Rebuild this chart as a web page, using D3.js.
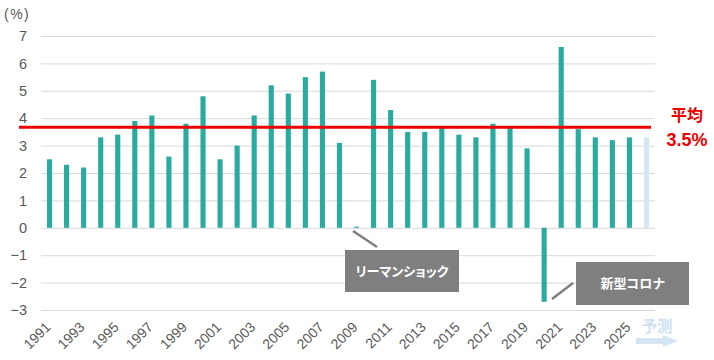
<!DOCTYPE html>
<html>
<head>
<meta charset="utf-8">
<script src="https://cdn.jsdelivr.net/npm/d3@7"></script>
<style>
  html, body { margin: 0; padding: 0; background: #fff; }
  svg { display: block; }
</style>
</head>
<body>
<svg id="chart" width="714" height="360"></svg>
<script>
const years = d3.range(1991, 2027).map(String);
const values = [2.5, 2.3, 2.2, 3.3, 3.4, 3.9, 4.1, 2.6, 3.8, 4.8,
                2.5, 3.0, 4.1, 5.2, 4.9, 5.5, 5.7, 3.1, 0.04, 5.4,
                4.3, 3.5, 3.5, 3.7, 3.4, 3.3, 3.8, 3.7, 2.9, -2.7,
                6.6, 3.6, 3.3, 3.2, 3.3, 3.3];
const forecastYears = ["2026"];
const yTicks = [-3, -2, -1, 0, 1, 2, 3, 4, 5, 6, 7];
const xTickLabels = d3.range(1991, 2026, 2).map(String);
const averageLine = 3.67;
const averageLabel = ["平均", "3.5%"];
const notes = [
  { text: "リーマンショック", year: "2009" },
  { text: "新型コロナ", year: "2020" }
];

const svg = d3.select("#chart");
const x = d3.scaleBand().domain(years).range([41, 655]).paddingInner(0.7).paddingOuter(0.35);
const y = d3.scaleLinear().domain([-3, 7]).range([310, 36]);

const tickFont = "'Liberation Sans', Arial, sans-serif";
const jpFont = "'Noto Sans CJK JP', sans-serif";

// gridlines
svg.append("g")
  .attr("transform", "translate(41,0)")
  .call(d3.axisLeft(y).tickValues(yTicks).tickSize(-(655 - 41)).tickFormat(""))
  .call(g => g.select(".domain").remove())
  .call(g => g.selectAll("line").attr("stroke", "#d9d9d9").attr("stroke-width", 1));

// y labels
svg.append("g")
  .attr("transform", "translate(27,0)")
  .call(d3.axisLeft(y).tickValues(yTicks).tickSize(0).tickPadding(0))
  .call(g => g.select(".domain").remove())
  .call(g => g.selectAll("text")
    .attr("font-family", tickFont).attr("font-size", 14.5).attr("fill", "#595959"));

svg.append("text").attr("x", 4).attr("y", 19)
  .attr("font-family", tickFont).attr("font-size", 14).attr("letter-spacing", 1.5).attr("fill", "#595959")
  .text("(%)");

// bars
svg.append("g").selectAll("rect")
  .data(years.map((yr, i) => ({ yr, v: values[i] })))
  .join("rect")
  .attr("x", d => x(d.yr))
  .attr("width", x.bandwidth())
  .attr("y", d => y(Math.max(0, d.v)))
  .attr("height", d => Math.max(1, Math.abs(y(d.v) - y(0))))
  .attr("fill", d => forecastYears.includes(d.yr) ? "#d4e5f3" : "#2aab9f");

// x labels
svg.append("g")
  .call(d3.axisBottom(x).tickValues(xTickLabels).tickSize(0).tickPadding(0))
  .call(g => g.select(".domain").remove())
  .call(g => g.selectAll(".tick").attr("transform", d => `translate(${x(d) + x.bandwidth() / 2 + 2},328)`))
  .call(g => g.selectAll("text")
    .attr("font-family", tickFont).attr("font-size", 14).attr("fill", "#595959")
    .attr("text-anchor", "end")
    .attr("y", 0).attr("dy", 0)
    .attr("transform", "rotate(-45)"));

// average line
svg.append("line")
  .attr("x1", 19).attr("x2", 651)
  .attr("y1", y(averageLine)).attr("y2", y(averageLine))
  .attr("stroke", "#ee0000").attr("stroke-width", 3);

svg.append("text").attr("x", 687).attr("y", 121)
  .attr("text-anchor", "middle")
  .attr("font-family", jpFont).attr("font-weight", "bold").attr("font-size", 16).attr("fill", "#ee0000")
  .text(averageLabel[0]);
svg.append("text").attr("x", 687).attr("y", 146)
  .attr("text-anchor", "middle")
  .attr("font-family", tickFont).attr("font-weight", "bold").attr("font-size", 18).attr("fill", "#ee0000")
  .text(averageLabel[1]);

// annotations
const boxes = [
  { x0: 345, y0: 250, w: 114, h: 42, lx1: 353, ly1: 231, lx2: 377, ly2: 247 },
  { x0: 576, y0: 262, w: 113, h: 43, lx1: 552, ly1: 299, lx2: 573, ly2: 283 }
];
notes.forEach((n, i) => {
  const b = boxes[i];
  svg.append("line").attr("x1", b.lx1).attr("y1", b.ly1).attr("x2", b.lx2).attr("y2", b.ly2)
    .attr("stroke", "#7f7f7f").attr("stroke-width", 2.5);
  svg.append("rect").attr("x", b.x0).attr("y", b.y0).attr("width", b.w).attr("height", b.h)
    .attr("fill", "#7f7f7f");
  svg.append("text").attr("x", b.x0 + b.w / 2).attr("y", b.y0 + b.h / 2)
    .attr("dy", "0.35em").attr("text-anchor", "middle")
    .style("font-feature-settings", "'palt'")
    .attr("font-family", jpFont).attr("font-weight", "bold").attr("font-size", 13).attr("fill", "#fff")
    .text(n.text);
});

// forecast marker
svg.append("text").attr("x", 657).attr("y", 332)
  .attr("text-anchor", "middle")
  .attr("font-family", jpFont).attr("font-weight", "bold").attr("font-size", 15.5).attr("fill", "#cfe2f3")
  .text("予測");
svg.append("path")
  .attr("d", "M636,338 L663,338 L663,335 L678,341 L663,347 L663,344 L636,344 Z")
  .attr("fill", "#d4e5f3");
</script>
</body>
</html>
